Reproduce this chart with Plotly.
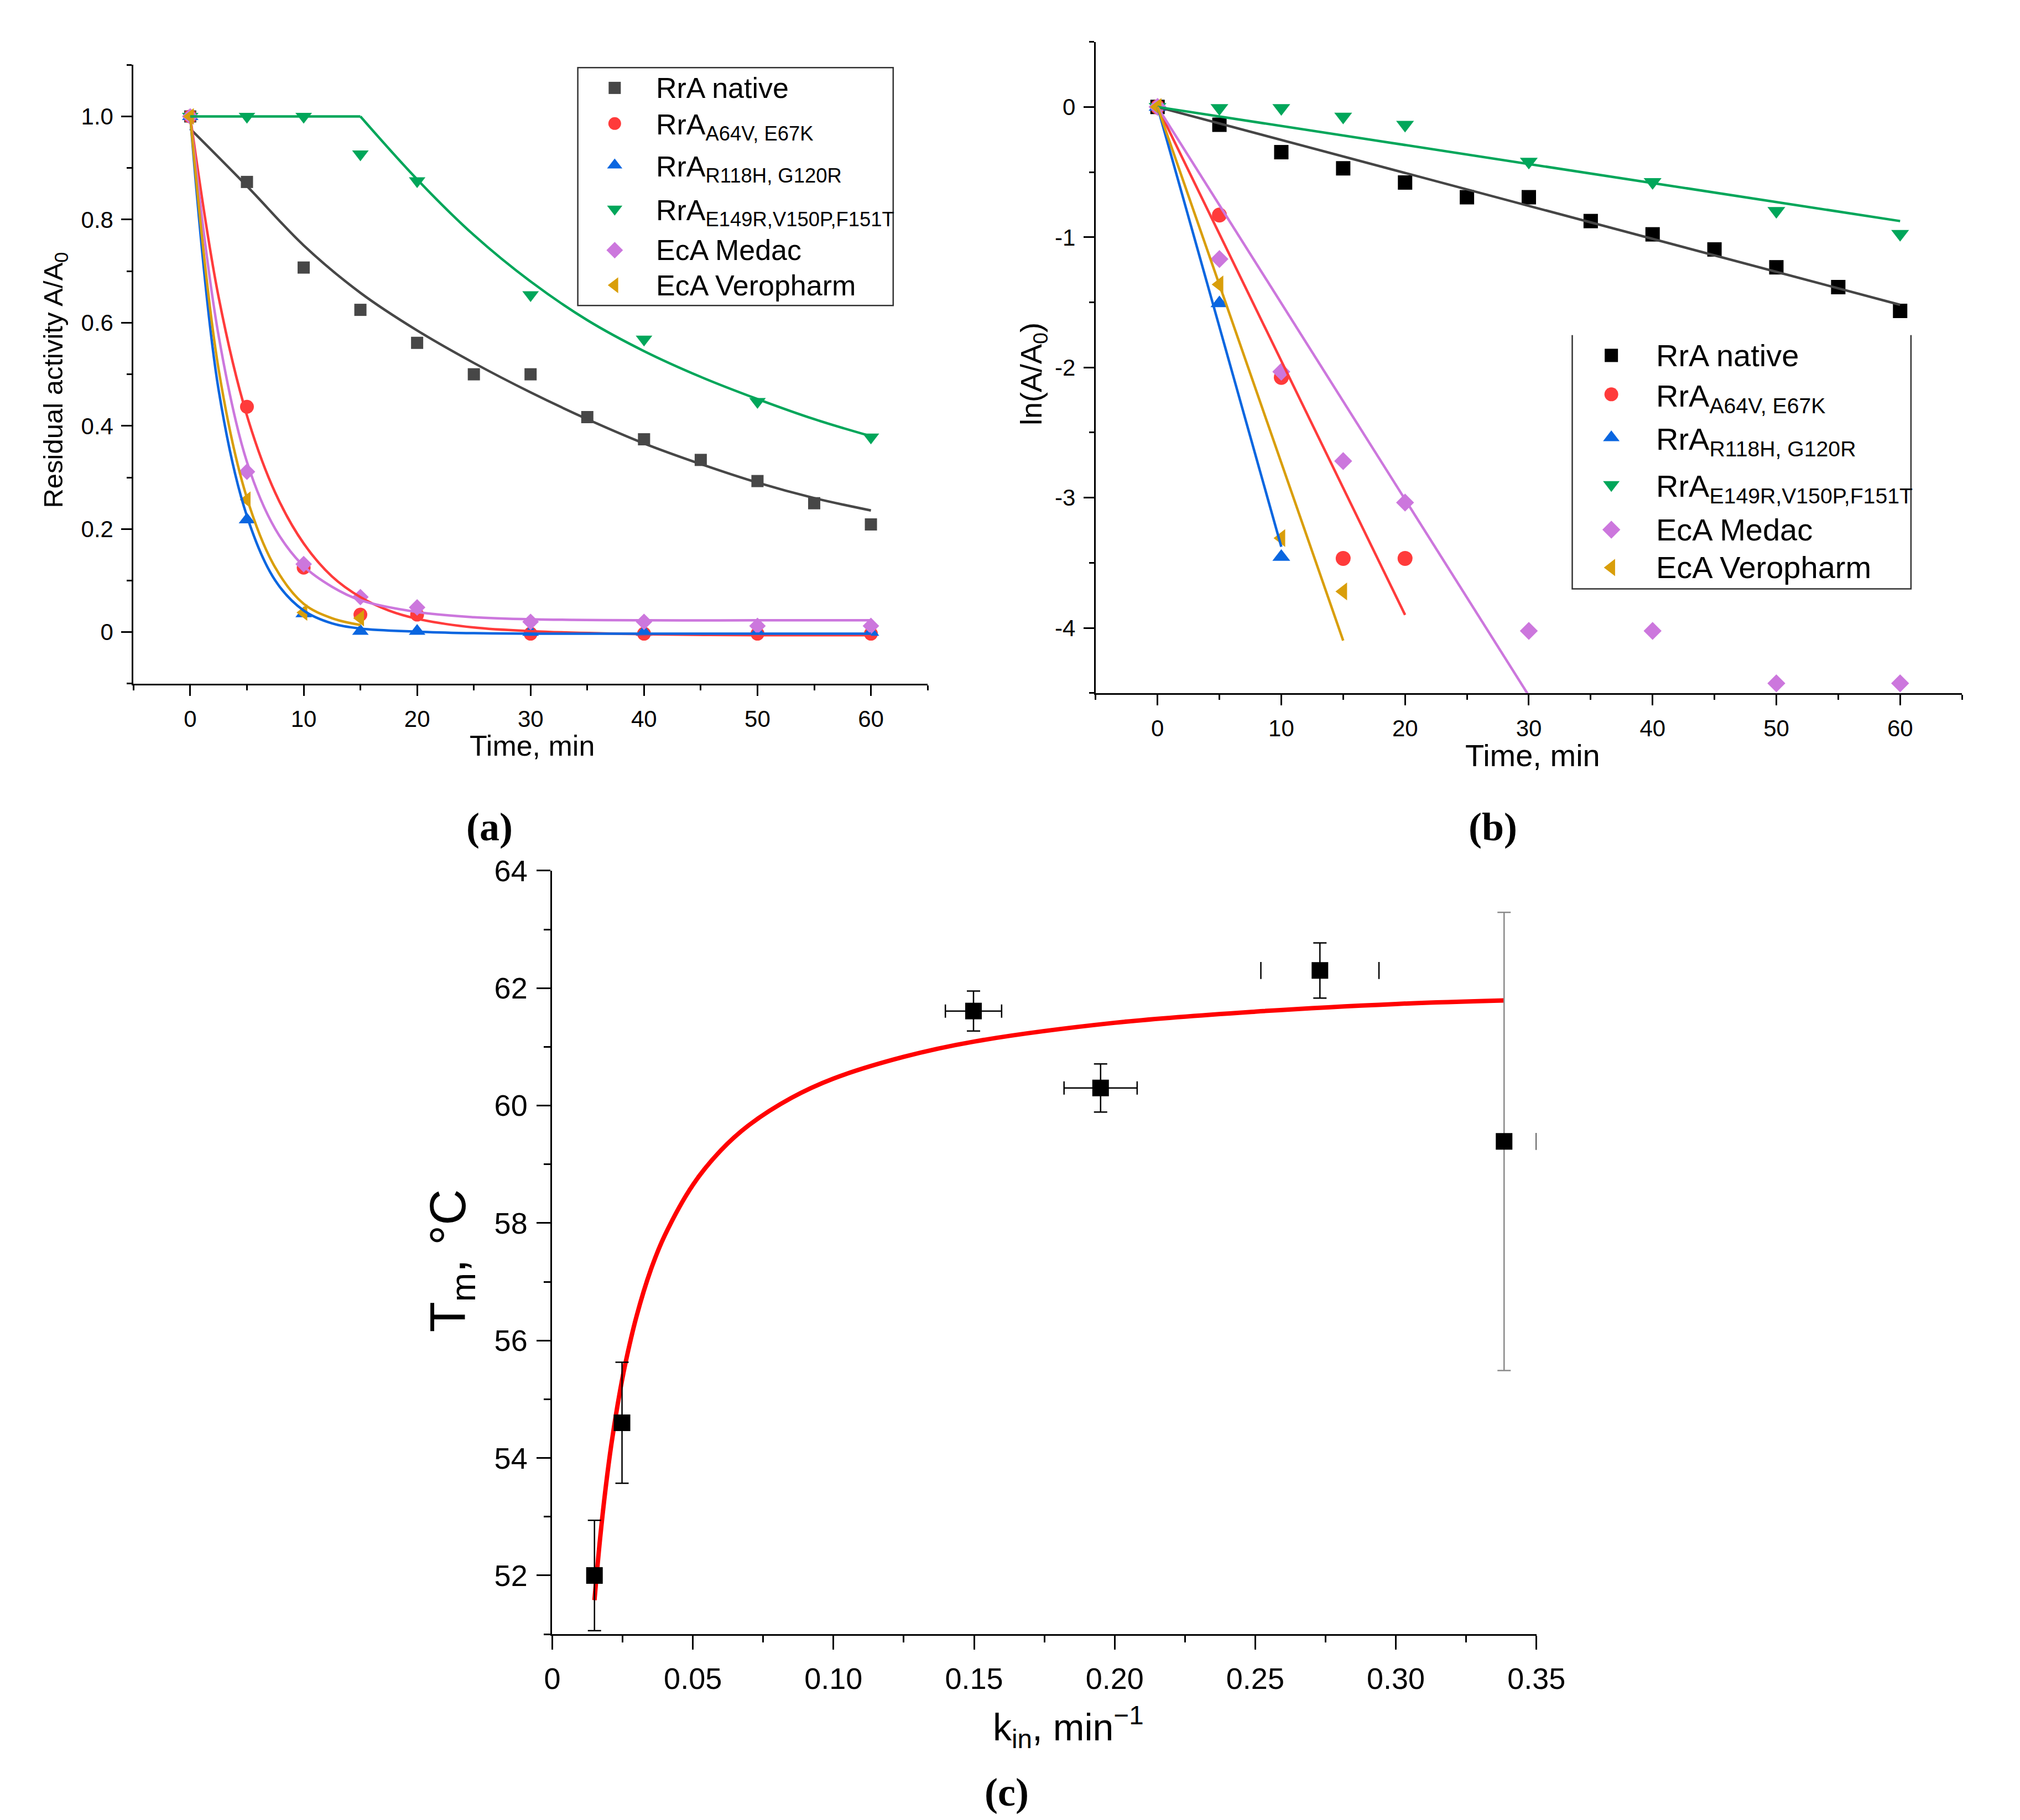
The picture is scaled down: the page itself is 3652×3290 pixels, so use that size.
import plotly.graph_objects as go

W, H = 3652, 3290
FONT = "Liberation Sans, Arial, sans-serif"
SERIF = "Liberation Serif, Times New Roman, serif"

# ---- panel (a): residual activity, panel (b): ln(A/A0) ----
names = ["RrA native", "RrA<sub>A64V, E67K</sub>", "RrA<sub>R118H, G120R</sub>",
         "RrA<sub>E149R,V150P,F151T</sub>", "EcA Medac", "EcA Veropharm"]

t_native = [0, 5, 10, 15, 20, 25, 30, 35, 40, 45, 50, 55, 60]
a_native = [1.0, 0.873, 0.707, 0.625, 0.561, 0.50, 0.50, 0.417, 0.374, 0.334, 0.293, 0.250, 0.209]
t_a64 = [0, 5, 10, 15, 20, 30, 40, 50, 60]
a_a64 = [1.0, 0.437, 0.125, 0.034, 0.034, -0.003, -0.003, -0.003, -0.003]
t_r118 = [0, 5, 10, 15, 20, 30, 40, 50, 60]
a_r118 = [1.0, 0.218, 0.036, 0.002, 0.002, 0.0, 0.0, 0.0, 0.0]
t_e149 = [0, 5, 10, 15, 20, 30, 40, 50, 60]
a_e149 = [1.0, 1.0, 1.0, 0.927, 0.875, 0.654, 0.568, 0.447, 0.378]
t_medac = [0, 5, 10, 15, 20, 30, 40, 50, 60]
a_medac = [1.0, 0.311, 0.132, 0.068, 0.048, 0.020, 0.020, 0.012, 0.012]
t_vero = [0, 5, 10, 15]
a_vero = [1.0, 0.257, 0.038, 0.027]

# fitted curves
fit_t_native = [0, 5, 10, 15, 20, 25, 30, 35, 40, 45, 50, 55, 60]
fit_a_native = [0.976, 0.865, 0.75, 0.658, 0.585, 0.522, 0.465, 0.413, 0.366, 0.326, 0.29, 0.26, 0.236]
fit_t_a64 = [0, 2.5, 5, 7.5, 10, 12.5, 15, 17.5, 20, 25, 30, 40, 50, 60]
fit_a_a64 = [1.0, 0.65, 0.42, 0.27, 0.172, 0.108, 0.068, 0.042, 0.026, 0.009, 0.002, -0.004, -0.006, -0.006]
fit_t_r118 = [0, 2.5, 5, 7.5, 10, 12.5, 15, 20, 25, 30, 40, 50, 60]
fit_a_r118 = [1.0, 0.47, 0.225, 0.10, 0.042, 0.017, 0.007, 0.001, -0.002, -0.003, -0.003, -0.003, -0.003]
fit_t_e149_flat = [0, 15]
fit_a_e149_flat = [1.0, 1.0]
fit_t_e149 = [15, 20, 25, 30, 35, 40, 45, 50, 55, 60]
fit_a_e149 = [1.0, 0.878, 0.77, 0.68, 0.605, 0.545, 0.495, 0.452, 0.413, 0.38]
fit_t_medac = [0, 2.5, 5, 7.5, 10, 12.5, 15, 20, 25, 30, 40, 50, 60]
fit_a_medac = [1.0, 0.575, 0.33, 0.2, 0.128, 0.088, 0.062, 0.039, 0.029, 0.025, 0.023, 0.023, 0.023]
fit_t_vero = [0, 2.5, 5, 7.5, 10, 12.5, 15]
fit_a_vero = [1.0, 0.51, 0.26, 0.125, 0.055, 0.027, 0.014]

# panel (b) points
ln_t_native = t_native
ln_native = [0, -0.136, -0.347, -0.471, -0.58, -0.693, -0.693, -0.876, -0.978, -1.094, -1.231, -1.383, -1.566]
ln_t_a64 = [0, 5, 10, 15, 20]
ln_a64 = [0, -0.83, -2.076, -3.466, -3.466]
ln_t_r118 = [0, 5, 10]
ln_r118 = [0, -1.507, -3.455]
ln_t_e149 = [0, 5, 10, 15, 20, 30, 40, 50, 60]
ln_e149 = [0, -0.008, -0.008, -0.074, -0.136, -0.42, -0.576, -0.798, -0.974]
ln_t_medac = [0, 5, 10, 15, 20, 30, 40, 50, 60]
ln_medac = [0, -1.168, -2.033, -2.719, -3.038, -4.023, -4.023, -4.425, -4.425]
ln_t_vero = [0, 5, 10, 15]
ln_vero = [0, -1.363, -3.31, -3.72]

# panel (b) linear fits (start, end)
lfit_t_native, lfit_native = [0, 60], [0, -1.519]
lfit_t_a64, lfit_a64 = [0, 20], [0, -3.9]
lfit_t_r118, lfit_r118 = [0, 10], [0, -3.377]
lfit_t_e149, lfit_e149 = [0, 60], [0, -0.876]
lfit_t_medac, lfit_medac = [0, 30], [0, -4.52]
lfit_t_vero, lfit_vero = [0, 15], [0, -4.097]

# ---- panel (c) ----
k_in = [0.015, 0.0248, 0.1498, 0.195, 0.273]
tm = [52.0, 54.6, 61.61, 60.30, 62.30]
tm_err = [0.94, 1.03, 0.34, 0.41, 0.47]
k_err = [0, 0, 0.010, 0.013, 0]
k_last, tm_last, tm_last_err = [0.3385], [59.39], [3.9]
cap_k = [0.252, 0.294, 0.350]
cap_tm = [62.30, 62.30, 59.39]
fit_k = [0.015, 0.017, 0.019, 0.021, 0.0235, 0.026, 0.030, 0.035, 0.040, 0.050,
         0.060, 0.070, 0.085, 0.100, 0.125, 0.150, 0.200, 0.250, 0.300, 0.3384]
fit_tm = [51.58, 52.63, 53.50, 54.23, 54.98, 55.61, 56.42, 57.20, 57.79, 58.65,
          59.24, 59.67, 60.13, 60.46, 60.83, 61.09, 61.41, 61.60, 61.73, 61.79]

colors_a = ["#474747", "#ff3b3b", "#0a66e0", "#00a65a", "#cc77dd", "#d99e0a"]
colors_b = ["#000000", "#ff3b3b", "#0a66e0", "#00a65a", "#cc77dd", "#d99e0a"]
symbols = ["square", "circle", "triangle-up", "triangle-down", "diamond", "triangle-left"]
sizes_a = [22, 25, 26, 26, 23, 26]
sizes_b = [26, 27, 28, 28, 25, 28]

fig = go.Figure()

pts_a = [(t_native, a_native), (t_a64, a_a64), (t_r118, a_r118),
         (t_e149, a_e149), (t_medac, a_medac), (t_vero, a_vero)]
for i, (x, y) in enumerate(pts_a):
    fig.add_trace(go.Scatter(x=x, y=y, mode="markers", xaxis="x", yaxis="y", showlegend=False,
                             marker=dict(symbol=symbols[i], size=sizes_a[i], color=colors_a[i])))

fits_a = [(fit_t_native, fit_a_native, 0), (fit_t_a64, fit_a_a64, 1), (fit_t_r118, fit_a_r118, 2),
          (fit_t_e149, fit_a_e149, 3), (fit_t_medac, fit_a_medac, 4), (fit_t_vero, fit_a_vero, 5)]
for x, y, i in fits_a:
    fig.add_trace(go.Scatter(x=x, y=y, mode="lines", xaxis="x", yaxis="y", showlegend=False,
                             line=dict(color=colors_a[i], width=4.5, shape="spline", smoothing=1.0)))
fig.add_trace(go.Scatter(x=fit_t_e149_flat, y=fit_a_e149_flat, mode="lines", xaxis="x", yaxis="y",
                         showlegend=False, line=dict(color=colors_a[3], width=4.5)))

pts_b = [(ln_t_native, ln_native), (ln_t_a64, ln_a64), (ln_t_r118, ln_r118),
         (ln_t_e149, ln_e149), (ln_t_medac, ln_medac), (ln_t_vero, ln_vero)]
for i, (x, y) in enumerate(pts_b):
    fig.add_trace(go.Scatter(x=x, y=y, mode="markers", xaxis="x2", yaxis="y2", showlegend=False,
                             marker=dict(symbol=symbols[i], size=sizes_b[i], color=colors_b[i])))

fits_b = [(lfit_t_native, lfit_native), (lfit_t_a64, lfit_a64), (lfit_t_r118, lfit_r118),
          (lfit_t_e149, lfit_e149), (lfit_t_medac, lfit_medac), (lfit_t_vero, lfit_vero)]
for i, (x, y) in enumerate(fits_b):
    c = "#454545" if i == 0 else colors_b[i]
    fig.add_trace(go.Scatter(x=x, y=y, mode="lines", xaxis="x2", yaxis="y2", showlegend=False,
                             line=dict(color=c, width=4.5)))

# panel (c)
fig.add_trace(go.Scatter(x=fit_k, y=fit_tm, mode="lines", xaxis="x3", yaxis="y3", showlegend=False,
                         line=dict(color="#ff0000", width=8, shape="spline", smoothing=1.0)))
fig.add_trace(go.Scatter(
    x=k_in, y=tm, mode="markers", xaxis="x3", yaxis="y3", showlegend=False,
    marker=dict(symbol="square", size=30, color="black"),
    error_y=dict(type="data", array=tm_err, color="black", thickness=2.5, width=12),
    error_x=dict(type="data", array=k_err, color="black", thickness=2.5, width=12)))
fig.add_trace(go.Scatter(
    x=k_last, y=tm_last, mode="markers", xaxis="x3", yaxis="y3", showlegend=False,
    marker=dict(symbol="square", size=30, color="black"),
    error_y=dict(type="data", array=tm_last_err, color="#8a8a8a", thickness=2.5, width=12)))
fig.add_trace(go.Scatter(x=cap_k, y=cap_tm, mode="markers", xaxis="x3", yaxis="y3", showlegend=False,
                         marker=dict(symbol="line-ns", size=22, line=dict(color="black", width=2.5))))

# ---- hand-made legends in pixel space (overlay axis x4/y4) ----
leg_a = dict(mx=1109, tx=1183, rows=[122, 187, 263, 343, 418, 482], font=52,
             box=(1041, 1622, 85, 519), sizes=[22, 23, 24, 24, 23, 25])
leg_b = dict(mx=2945, tx=3025, rows=[610, 681, 760, 846, 928, 997], font=56,
             box=(2873, 3497, 573, 1036), sizes=[24, 25, 26, 26, 25, 27])

annotations = []
for leg, cols in [(leg_a, colors_a), (leg_b, colors_b)]:
    for i, name in enumerate(names):
        fig.add_trace(go.Scatter(x=[leg["mx"]], y=[leg["rows"][i]], mode="markers", xaxis="x4", yaxis="y4",
                                 showlegend=False, cliponaxis=False,
                                 marker=dict(symbol=symbols[i], size=leg["sizes"][i], color=cols[i])))
        dy = 0.12 * leg["font"] if "<sub>" in name else 0
        annotations.append(dict(x=leg["tx"], y=leg["rows"][i] + dy, xref="x4", yref="y4", text=name,
                                xanchor="left", yanchor="middle", showarrow=False,
                                font=dict(family=FONT, size=leg["font"], color="black")))

x0, x1, y0, y1 = leg_a["box"]
shapes = [dict(type="rect", xref="x4", yref="y4", x0=x0, x1=x1, y0=y0, y1=y1,
               line=dict(color="#333333", width=2.5))]
x0, x1, y0, y1 = leg_b["box"]
shapes.append(dict(type="path", xref="x4", yref="y4",
                   path=f"M{x0},{y0} L{x0},{y1} L{x1},{y1} L{x1},{y0}",
                   line=dict(color="#333333", width=2.5)))


def note(x, y, text, size, angle=0, family=FONT, bold=False):
    if bold:
        text = f"<b>{text}</b>"
    annotations.append(dict(x=x, y=y, xref="x4", yref="y4", text=text, textangle=angle,
                            xanchor="center", yanchor="middle", showarrow=False,
                            font=dict(family=family, size=size, color="black")))


note(957, 1322, "Time, min", 52)
note(77, 655, "Residual activity A/A<sub>0</sub>", 49, angle=-90)
note(2800, 1340, "Time, min", 56)
note(1880, 644, "ln(A/A<sub>0</sub>)", 54, angle=-90)
note(1945, 3112, "k<sub>in</sub>, min<sup>−1</sup>", 68)
note(808, 2262, "T<sub>m</sub>, °C", 90, angle=-90)
note(878, 1470, "(a)", 72, family=SERIF, bold=True)
note(2727, 1470, "(b)", 72, family=SERIF, bold=True)
note(1831, 3231, "(c)", 72, family=SERIF, bold=True)


def axis(domain, rng, tickvals, ticktext, minor_vals, size, ticklen=19, anchor=None):
    return dict(domain=domain, range=rng, tickvals=tickvals, ticktext=ticktext,
                showline=True, linecolor="black", linewidth=3, ticks="outside",
                ticklen=ticklen, tickwidth=3, tickcolor="black", showgrid=False, zeroline=False,
                tickfont=dict(family=FONT, size=size, color="black"), anchor=anchor,
                ticklabelstandoff=6,
                minor=dict(tickvals=minor_vals, ticks="outside", ticklen=int(ticklen * 0.5),
                           tickwidth=3, tickcolor="black", showgrid=False))


xa_ticks = [0, 10, 20, 30, 40, 50, 60]
xa_text = ["0", "10", "20", "30", "40", "50", "60"]
xa_minor = [-5, 5, 15, 25, 35, 45, 55, 65]
ya_ticks = [0, 0.2, 0.4, 0.6, 0.8, 1.0]
ya_text = ["0", "0.2", "0.4", "0.6", "0.8", "1.0"]
ya_minor = [-0.1, 0.1, 0.3, 0.5, 0.7, 0.9, 1.1]
yb_ticks = [0, -1, -2, -3, -4]
yb_text = ["0", "-1", "-2", "-3", "-4"]
yb_minor = [0.5, -0.5, -1.5, -2.5, -3.5, -4.5]
xc_ticks = [0, 0.05, 0.10, 0.15, 0.20, 0.25, 0.30, 0.35]
xc_text = ["0", "0.05", "0.10", "0.15", "0.20", "0.25", "0.30", "0.35"]
xc_minor = [0.025, 0.075, 0.125, 0.175, 0.225, 0.275, 0.325]
yc_ticks = [52, 54, 56, 58, 60, 62, 64]
yc_text = ["52", "54", "56", "58", "60", "62", "64"]
yc_minor = [51, 53, 55, 57, 59, 61, 63]

fig.update_layout(
    width=W, height=H, margin=dict(l=0, r=0, t=0, b=0),
    paper_bgcolor="white", plot_bgcolor="rgba(0,0,0,0)", showlegend=False,
    xaxis=axis([222.5 / W, 1685.5 / W], [-5, 65], xa_ticks, xa_text, xa_minor, 42, anchor="y"),
    yaxis=axis([1 - 1209 / H, 1 - 80 / H], [-0.1, 1.1], ya_ticks, ya_text, ya_minor, 42, anchor="x"),
    xaxis2=axis([1995 / W, 3591 / W], [-5, 65], xa_ticks, xa_text, xa_minor, 42, anchor="y2"),
    yaxis2=axis([1 - 1226 / H, 1 - 38 / H], [-4.5, 0.5], yb_ticks, yb_text, yb_minor, 42, anchor="x2"),
    xaxis3=axis([994 / W, 2807 / W], [0, 0.35], xc_ticks, xc_text, xc_minor, 54, ticklen=25, anchor="y3"),
    yaxis3=axis([1 - 2943 / H, 1 - 1550 / H], [51, 64], yc_ticks, yc_text, yc_minor, 54, ticklen=25, anchor="x3"),
    xaxis4=dict(domain=[0, 1], range=[0, W], visible=False, fixedrange=True, anchor="y4"),
    yaxis4=dict(domain=[0, 1], range=[H, 0], visible=False, fixedrange=True, anchor="x4"),
    annotations=annotations, shapes=shapes,
)

fig.write_html("out.html")
